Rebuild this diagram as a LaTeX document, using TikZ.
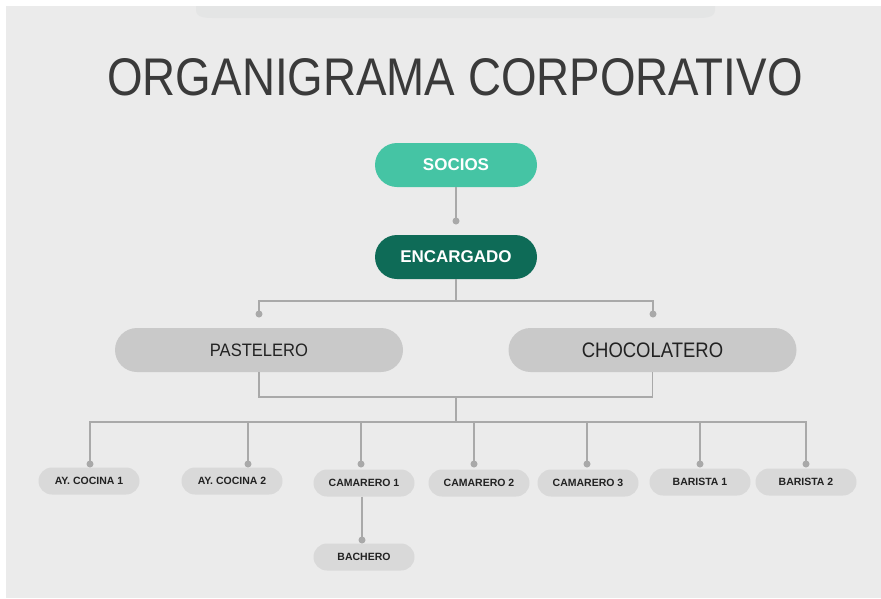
\documentclass[tikz,border=0pt]{standalone}
\usepackage{fontspec}
\setmainfont{Liberation Sans}
\usepackage{graphicx}
\definecolor{bg}{HTML}{EBEBEB}
\definecolor{band}{HTML}{E4E5E5}
\definecolor{titlec}{HTML}{3A3A3A}
\definecolor{teal}{HTML}{45C4A4}
\definecolor{dgreen}{HTML}{0E6B57}
\definecolor{bigg}{HTML}{C9C9C9}
\definecolor{smallg}{HTML}{D9D9D9}
\definecolor{linec}{HTML}{A9A9A9}
\definecolor{txt}{HTML}{222222}
\begin{document}
\begin{tikzpicture}[x=1pt,y=-1pt,
  topbox/.style={minimum width=162pt,minimum height=44pt,rounded corners=22pt,inner sep=0pt,
     text=white,font=\fontsize{17}{17}\selectfont\bfseries},
  bigbox/.style={fill=bigg,minimum width=288pt,minimum height=44pt,rounded corners=22pt,inner sep=0pt,text=txt},
  smallbox/.style={fill=smallg,minimum width=101pt,minimum height=27pt,rounded corners=13.5pt,inner sep=0pt,
     text=txt,font=\fontsize{10.5}{10.5}\selectfont\bfseries},
  conn/.style={draw=linec,line width=1.5pt},
  enddot/.style={fill=linec,draw=none}]
\useasboundingbox (0,0) rectangle (881,598);
\fill[white] (0,0) rectangle (881,598);
\fill[bg] (6,6) rectangle (881,598);
\fill[band] (196,6) -- (715,6) -- (715,10) to[out=270,in=0] (695,18) -- (216,18) to[out=180,in=270] (196,10) -- cycle;
% title
\node[text=titlec,inner sep=0pt,anchor=base] (title) at (455,95)
  {\resizebox{695pt}{37pt}{ORGANIGRAMA CORPORATIVO}};
% nodes
\node[topbox,fill=teal] (socios) at (456,165) {SOCIOS};
\node[topbox,fill=dgreen] (enc) at (456,257) {ENCARGADO};
\node[bigbox,font=\fontsize{18}{18}\selectfont] (pas) at (259,350) {\scalebox{0.92}[1]{PASTELERO}};
\node[bigbox,font=\fontsize{21}{21}\selectfont] (cho) at (652.5,350) {\scalebox{0.88}[1]{CHOCOLATERO}};
\node[smallbox] (c1) at (89,481) {AY. COCINA 1};
\node[smallbox] (c2) at (232,481) {AY. COCINA 2};
\node[smallbox] (m1) at (364,483) {CAMARERO 1};
\node[smallbox] (bach) at (364,557) {BACHERO};
\node[smallbox] (m2) at (479,483) {CAMARERO 2};
\node[smallbox] (m3) at (588,483) {CAMARERO 3};
\node[smallbox] (b1) at (700,482) {BARISTA 1};
\node[smallbox] (b2) at (806,482) {BARISTA 2};
% coordinates
\coordinate (sd) at (456,221);
\coordinate (j1) at (456,301);
\coordinate (pd) at (259,314);
\coordinate (cd) at (653,314);
\coordinate (j2) at (456,397);
\coordinate (j3) at (456,422);
\coordinate (d1) at (90,464);
\coordinate (d2) at (248,464);
\coordinate (d3) at (361,464);
\coordinate (d4) at (474,464);
\coordinate (d5) at (587,464);
\coordinate (d6) at (700,464);
\coordinate (d7) at (806,464);
\coordinate (bd) at (362,540);
% connectors
\draw[conn] (socios.south) -- (sd);
\draw[conn] (enc.south) -- (j1);
\draw[conn] (pd) -- (pd |- j1) -- (cd |- j1) -- (cd);
\draw[conn] (pas.south) -- (pas.south |- j2) -- (cho.south |- j2) -- (cho.south);
\draw[conn] (j2) -- (j3);
\draw[conn] (d1) -- (d1 |- j3) -- (d7 |- j3) -- (d7);
\foreach \d in {d2,d3,d4,d5,d6} \draw[conn] (\d |- j3) -- (\d);
\draw[conn] (bd |- m1.south) -- (bd);
% dots
\foreach \d in {sd,pd,cd,d1,d2,d3,d4,d5,d6,d7,bd} \fill[enddot] (\d) circle (3.5pt);
\end{tikzpicture}
\end{document}
